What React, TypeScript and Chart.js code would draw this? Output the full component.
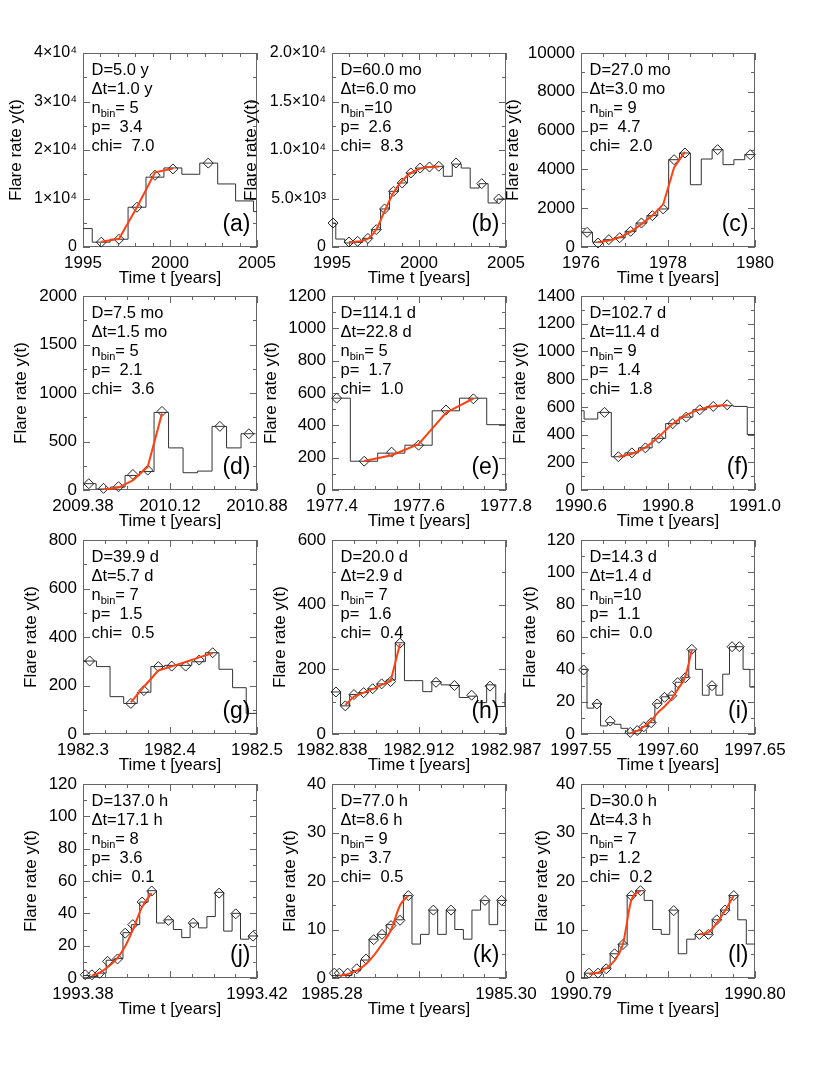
import React, { useEffect, useRef } from 'react';
import { Chart, registerables } from 'chart.js';

Chart.register(...registerables);

const FONT = '"Liberation Sans", Arial, Helvetica, sans-serif';
const FIT_COLOR = '#ff4010';
const HIST_COLOR = '#333333';
const FRAME_COLOR = '#666666';
const DIAMOND_COLOR = '#222222';

// ---------- text of each panel ----------
const panelLetters = ['(a)', '(b)', '(c)', '(d)', '(e)', '(f)', '(g)', '(h)', '(i)', '(j)', '(k)', '(l)'];
const durationLabels = ['D=5.0 y', 'D=60.0 mo', 'D=27.0 mo', 'D=7.5 mo', 'D=114.1 d', 'D=102.7 d', 'D=39.9 d', 'D=20.0 d', 'D=14.3 d', 'D=137.0 h', 'D=77.0 h', 'D=30.0 h'];
const stepLabels = ['Δt=1.0 y', 'Δt=6.0 mo', 'Δt=3.0 mo', 'Δt=1.5 mo', 'Δt=22.8 d', 'Δt=11.4 d', 'Δt=5.7 d', 'Δt=2.9 d', 'Δt=1.4 d', 'Δt=17.1 h', 'Δt=8.6 h', 'Δt=4.3 h'];
const nbinLabels = ['= 5', '=10', '= 9', '= 5', '= 5', '= 9', '= 7', '= 7', '=10', '= 8', '= 9', '= 7'];
const pLabels = ['p=  3.4', 'p=  2.6', 'p=  4.7', 'p=  2.1', 'p=  1.7', 'p=  1.4', 'p=  1.5', 'p=  1.6', 'p=  1.1', 'p=  3.6', 'p=  3.7', 'p=  1.2'];
const chiLabels = ['chi=  7.0', 'chi=  8.3', 'chi=  2.0', 'chi=  3.6', 'chi=  1.0', 'chi=  1.8', 'chi=  0.5', 'chi=  0.4', 'chi=  0.0', 'chi=  0.1', 'chi=  0.5', 'chi=  0.2'];

// ---------- axes ----------
const xRanges = [
  [1995, 2005], [1995, 2005], [1976, 1980],
  [2009.38, 2010.88], [1977.4, 1977.8], [1990.6, 1991.0],
  [1982.3, 1982.5], [1982.838, 1982.987], [1997.55, 1997.65],
  [1993.38, 1993.42], [1985.28, 1985.30], [1990.79, 1990.80],
];
const xTickLabels = [
  ['1995', '2000', '2005'], ['1995', '2000', '2005'], ['1976', '1978', '1980'],
  ['2009.38', '2010.12', '2010.88'], ['1977.4', '1977.6', '1977.8'], ['1990.6', '1990.8', '1991.0'],
  ['1982.3', '1982.4', '1982.5'], ['1982.838', '1982.912', '1982.987'], ['1997.55', '1997.60', '1997.65'],
  ['1993.38', '', '1993.42'], ['1985.28', '', '1985.30'], ['1990.79', '', '1990.80'],
];
const xMinorCounts = [10, 10, 8, 8, 8, 8, 8, 8, 8, 8, 8, 8];
const yMaxima = [40000, 20000, 10000, 2000, 1200, 1400, 800, 600, 120, 120, 40, 40];
const ySteps = [10000, 5000, 2000, 500, 200, 200, 200, 200, 20, 20, 10, 10];
const yLabelsA = ['0', '1×10⁴', '2×10⁴', '3×10⁴', '4×10⁴'];
const yLabelsB = ['0', '5.0×10³', '1.0×10⁴', '1.5×10⁴', '2.0×10⁴'];

// ---------- panel (a) ----------
const aBinStart = 1994.5, aBinWidth = 1.03;
const aValues = [3800, 1000, 1600, 8200, 14400, 16300, 15000, 17300, 13000, 9500, 7300];
const aDiamondX = [1996.05, 1997.07, 1998.1, 1999.14, 2000.17, 2002.2];
const aDiamondY = [1000, 1600, 8200, 14800, 16100, 17300];
const aFitX = [1996.05, 1997.07, 1998.1, 1999.14, 2000.17];
const aFitY = [1100, 1700, 8200, 15400, 16200];

// ---------- panel (b) ----------
const bBinStart = 1994.7025, bBinWidth = 0.515;
const bValues = [2470, 820, 420, 480, 890, 1790, 3920, 5740, 6600, 7630, 8140, 8250, 8320, 7290, 8550, 8140, 6080, 6530, 4540, 4950];
const bDiamondX = [1995.06, 1995.975, 1996.472, 1997.065, 1997.543, 1998.021, 1998.537, 1999.034, 1999.532, 2000.067, 2000.602, 2001.138, 2002.132, 2003.604, 2004.579];
const bDiamondY = [2470, 515, 585, 890, 1790, 3920, 5740, 6600, 7630, 8140, 8250, 8320, 8660, 6530, 4950];
const bFitX = [1995.975, 1996.472, 1997.065, 1997.543, 1998.021, 1998.537, 1999.034, 1999.532, 2000.067, 2000.602, 2001.138];
const bFitY = [520, 560, 850, 1800, 3700, 5600, 6850, 7620, 8080, 8260, 8280];

// ---------- panel (c) ----------
const cBinStart = 1976.015, cBinWidth = 0.25;
const cValues = [756, 250, 378, 480, 808, 1237, 1615, 1960, 4500, 4845, 3210, 4535, 5017, 4244, 4500, 4760];
const cDiamondX = [1976.14, 1976.39, 1976.64, 1976.89, 1977.14, 1977.39, 1977.64, 1977.89, 1978.14, 1978.39, 1979.14, 1979.89];
const cDiamondY = [756, 206, 378, 480, 808, 1237, 1615, 1960, 4500, 4845, 5017, 4760];
const cFitX = [1976.39, 1976.64, 1976.89, 1977.14, 1977.39, 1977.64, 1977.89, 1978.14, 1978.39];
const cFitY = [250, 340, 500, 780, 1180, 1620, 2200, 4100, 4900];

// ---------- panel (d) ----------
const dBinStart = 2009.3675, dBinWidth = 0.125;
const dValues = [65, 10, 30, 150, 190, 800, 434, 178, 195, 656, 434, 580];
const dDiamondX = [2009.43, 2009.557, 2009.686, 2009.81, 2009.938, 2010.061, 2010.56, 2010.81];
const dDiamondY = [65, 17, 34, 160, 205, 810, 656, 580];
const dFitX = [2009.557, 2009.686, 2009.81, 2009.938, 2010.061];
const dFitY = [5, 25, 100, 240, 790];

// ---------- panel (e) ----------
const eBinStart = 1977.3795, eBinWidth = 0.0627;
const eValues = [568, 178, 228, 277, 490, 568, 404];
const eDiamondX = [1977.4107, 1977.474, 1977.537, 1977.599, 1977.662, 1977.725];
const eDiamondY = [568, 178, 234, 277, 495, 564];
const eFitX = [1977.474, 1977.537, 1977.599, 1977.662, 1977.725];
const eFitY = [180, 215, 283, 478, 566];

// ---------- panel (f) ----------
const fBinStart = 1990.5759, fBinWidth = 0.03125;
const fValues = [572, 512, 560, 240, 268, 304, 373, 479, 526, 579, 603, 608, 603, 400];
const fDiamondX = [1990.654, 1990.686, 1990.717, 1990.748, 1990.779, 1990.811, 1990.842, 1990.873, 1990.904, 1990.936];
const fDiamondY = [560, 240, 268, 304, 373, 479, 526, 579, 603, 615];
const fFitX = [1990.686, 1990.717, 1990.748, 1990.779, 1990.811, 1990.842, 1990.873, 1990.904, 1990.936];
const fFitY = [240, 262, 308, 385, 478, 540, 582, 605, 614];

// ---------- panel (g) ----------
const gBinStart = 1982.2998, gBinWidth = 0.01565;
const gValues = [301, 278, 154, 126, 172, 278, 283, 283, 298, 335, 267, 191, 85];
const gDiamondX = [1982.3076, 1982.355, 1982.370, 1982.3866, 1982.402, 1982.418, 1982.4336, 1982.449];
const gDiamondY = [301, 126, 179, 278, 280, 280, 305, 335];
const gFitX = [1982.355, 1982.370, 1982.3866, 1982.402, 1982.418, 1982.4336, 1982.449];
const gFitY = [130, 195, 262, 279, 297, 316, 334];

// ---------- panel (h) ----------
const hBinStart = 1982.8375, hBinWidth = 0.00782;
const hValues = [130, 87, 122, 128, 140, 155, 167, 282, 165, 165, 131, 162, 152, 150, 113, 117, 97, 152, 85, 126];
const hDiamondX = [1982.8414, 1982.8494, 1982.8568, 1982.8651, 1982.8728, 1982.8805, 1982.8882, 1982.8962, 1982.9271, 1982.9428, 1982.9576, 1982.9733];
const hDiamondY = [130, 87, 122, 128, 140, 155, 162, 281, 160, 150, 120, 148];
const hFitX = [1982.8494, 1982.8568, 1982.8651, 1982.8728, 1982.8805, 1982.8882, 1982.8962];
const hFitY = [90, 116, 128, 139, 152, 163, 278];

// ---------- panel (i) ----------
const iBinStart = 1997.54955, iBinWidth = 0.0039;
const iValues = [40, 16, 19, 5, 7, 6, 3.5, 0.5, 2, 4.5, 7, 19, 23, 24, 32, 35, 52, 40, 24, 30, 24, 37, 54, 54, 40, 29];
const iDiamondX = [1997.5515, 1997.5592, 1997.5668, 1997.5783, 1997.5823, 1997.5861, 1997.5903, 1997.5938, 1997.598, 1997.6022, 1997.6056, 1997.6099, 1997.6137, 1997.6253, 1997.6368, 1997.641];
const iDiamondY = [39.6, 18.6, 8, 1, 2.1, 4.5, 7, 18.6, 22.7, 23.7, 31.8, 34.8, 52.4, 29.9, 54, 54];
const iFitX = [1997.5783, 1997.5823, 1997.5861, 1997.5903, 1997.5938, 1997.598, 1997.6022, 1997.6056, 1997.6099, 1997.6137];
const iFitY = [0.4, 1.9, 4.5, 8.2, 12.8, 17, 22, 27.6, 35.5, 52];

// ---------- panel (j) ----------
const jBinStart = 1993.379535, jBinWidth = 0.00193;
const jValues = [1.5, 1, 3, 11, 12, 28, 33, 47, 54, 34, 36, 30, 25, 34, 31, 38, 53, 29, 40, 24, 26];
const jDiamondX = [1993.38053, 1993.38206, 1993.38382, 1993.38565, 1993.38794, 1993.3897, 1993.39145, 1993.39359, 1993.3958, 1993.39962, 1993.40534, 1993.4113, 1993.41511, 1993.41908];
const jDiamondY = [2, 2, 2.9, 10.3, 11.8, 27.7, 33, 47, 53.8, 35.6, 34, 52.5, 39.7, 25.9];
const jFitX = [1993.38206, 1993.38382, 1993.38565, 1993.38794, 1993.3897, 1993.39145, 1993.39359, 1993.3958];
const jFitY = [1.5, 3.3, 6.6, 12.5, 19.6, 29.8, 44, 52.5];

// ---------- panel (k) ----------
const kBinStart = 1985.279341, kBinWidth = 0.000985;
const kValues = [0.5, 0.5, 0.5, 1.5, 3.7, 8, 9, 11, 12, 17, 7, 9, 14, 9, 14, 10, 8, 14, 16, 11, 16];
const kDiamondX = [1985.28027, 1985.28084, 1985.2818, 1985.28284, 1985.28391, 1985.28479, 1985.28575, 1985.28678, 1985.28782, 1985.28877, 1985.29165, 1985.29368, 1985.29759, 1985.2995];
const kDiamondY = [1, 1, 1, 1.9, 3.9, 7.9, 9, 10.8, 11.9, 17, 14, 14, 16, 16];
const kFitX = [1985.28084, 1985.2818, 1985.28284, 1985.28391, 1985.28479, 1985.28575, 1985.28678, 1985.28782, 1985.28877];
const kFitY = [0.5, 0.8, 1.5, 2.9, 4.6, 7.0, 9.9, 15.0, 17];

// ---------- panel (l) ----------
const lBinStart = 1990.78972, lBinWidth = 0.000489;
const lValues = [0, 1, 1, 2, 5, 7, 17, 18, 16, 10, 9, 14, 5, 8, 9, 9, 12, 14, 17, 12, 7];
const lDiamondX = [1990.79046, 1990.79098, 1990.79145, 1990.79193, 1990.79241, 1990.79289, 1990.79342, 1990.79533, 1990.79681, 1990.79732, 1990.7978, 1990.79828, 1990.79878];
const lDiamondY = [1, 1, 1.9, 5, 6.9, 17, 18, 13.9, 9, 9, 12, 14, 17];
const lFitX = [1990.79046, 1990.79098, 1990.79145, 1990.79193, 1990.79241, 1990.79289, 1990.79342];
const lFitY = [0.8, 1.1, 2, 3.6, 7, 16, 18];
const lFit2X = [1990.79681, 1990.79732, 1990.7978, 1990.79828, 1990.79878];
const lFit2Y = [9, 9.4, 11.3, 13.9, 17];

type PanelSpec = {
  binStart: number;
  binWidth: number;
  values: number[];
  diaX: number[];
  diaY: number[];
  fits: [number[], number[]][];
  smooth: boolean;
};

const panels: PanelSpec[] = [
  { binStart: aBinStart, binWidth: aBinWidth, values: aValues, diaX: aDiamondX, diaY: aDiamondY, fits: [[aFitX, aFitY]], smooth: false },
  { binStart: bBinStart, binWidth: bBinWidth, values: bValues, diaX: bDiamondX, diaY: bDiamondY, fits: [[bFitX, bFitY]], smooth: true },
  { binStart: cBinStart, binWidth: cBinWidth, values: cValues, diaX: cDiamondX, diaY: cDiamondY, fits: [[cFitX, cFitY]], smooth: false },
  { binStart: dBinStart, binWidth: dBinWidth, values: dValues, diaX: dDiamondX, diaY: dDiamondY, fits: [[dFitX, dFitY]], smooth: false },
  { binStart: eBinStart, binWidth: eBinWidth, values: eValues, diaX: eDiamondX, diaY: eDiamondY, fits: [[eFitX, eFitY]], smooth: false },
  { binStart: fBinStart, binWidth: fBinWidth, values: fValues, diaX: fDiamondX, diaY: fDiamondY, fits: [[fFitX, fFitY]], smooth: true },
  { binStart: gBinStart, binWidth: gBinWidth, values: gValues, diaX: gDiamondX, diaY: gDiamondY, fits: [[gFitX, gFitY]], smooth: false },
  { binStart: hBinStart, binWidth: hBinWidth, values: hValues, diaX: hDiamondX, diaY: hDiamondY, fits: [[hFitX, hFitY]], smooth: false },
  { binStart: iBinStart, binWidth: iBinWidth, values: iValues, diaX: iDiamondX, diaY: iDiamondY, fits: [[iFitX, iFitY]], smooth: true },
  { binStart: jBinStart, binWidth: jBinWidth, values: jValues, diaX: jDiamondX, diaY: jDiamondY, fits: [[jFitX, jFitY]], smooth: true },
  { binStart: kBinStart, binWidth: kBinWidth, values: kValues, diaX: kDiamondX, diaY: kDiamondY, fits: [[kFitX, kFitY]], smooth: true },
  { binStart: lBinStart, binWidth: lBinWidth, values: lValues, diaX: lDiamondX, diaY: lDiamondY, fits: [[lFitX, lFitY], [lFit2X, lFit2Y]], smooth: true },
];

// ---------- layout ----------
const COL_LEFT = [83, 332, 581];
const ROW_TOP = [53, 296, 540, 784];
const PLOT_W = 174;
const PLOT_H = 194;
const PAD_L = 92;
const PAD_T = 15;
const PAD_R = 35;
const PAD_B = 42;
const CW = PAD_L + PLOT_W + PAD_R;
const CH = PAD_T + PLOT_H + PAD_B;
const Y_TITLE_OFFSET = [67, 81, 68, 62, 61, 61, 52, 52, 51, 52, 42, 39];

function decorPlugin(idx: number) {
  return {
    id: 'decor' + idx,
    beforeDatasetsDraw(chart: any) {
      const { ctx, chartArea: ca } = chart;
      const xs = chart.scales.x;
      const ys = chart.scales.y;
      ctx.save();
      ctx.strokeStyle = FRAME_COLOR;
      ctx.lineWidth = 1;
      ctx.strokeRect(ca.left + 0.5, ca.top + 0.5, ca.right - ca.left - 1, ca.bottom - ca.top - 1);
      const line = (x1: number, y1: number, x2: number, y2: number) => {
        ctx.beginPath();
        ctx.moveTo(x1, y1);
        ctx.lineTo(x2, y2);
        ctx.stroke();
      };
      const [x0, x1] = xRanges[idx];
      const nx = xMinorCounts[idx];
      for (let k = 0; k <= nx; k++) {
        const v = x0 + ((x1 - x0) * k) / nx;
        const major = (k * 2) % nx === 0;
        const len = major ? 7 : 4;
        const px = Math.round(xs.getPixelForValue(v)) + 0.5;
        line(px, ca.bottom, px, ca.bottom - len);
        line(px, ca.top, px, ca.top + len);
      }
      const yMax = yMaxima[idx];
      const ny = Math.round((yMax / ySteps[idx]) * 2);
      for (let k = 0; k <= ny; k++) {
        const v = (yMax * k) / ny;
        const major = k % 2 === 0;
        const len = major ? 7 : 4;
        const py = Math.round(ys.getPixelForValue(v)) + 0.5;
        line(ca.left, py, ca.left + len, py);
        line(ca.right, py, ca.right - len, py);
      }
      ctx.restore();
    },
    afterDatasetsDraw(chart: any) {
      const { ctx, chartArea: ca } = chart;
      ctx.save();
      ctx.fillStyle = '#000';
      ctx.textAlign = 'left';
      ctx.textBaseline = 'alphabetic';
      const big = '16.5px ' + FONT;
      const small = '11px ' + FONT;
      const x0 = ca.left + 8.5;
      const base = ca.top + 21.5;
      const dy = 19;
      ctx.font = big;
      ctx.fillText(durationLabels[idx], x0, base);
      ctx.fillText(stepLabels[idx], x0, base + dy);
      ctx.fillText('n', x0, base + 2 * dy);
      const wn = ctx.measureText('n').width;
      ctx.font = small;
      ctx.fillText('bin', x0 + wn, base + 2 * dy + 4.5);
      const wb = ctx.measureText('bin').width;
      ctx.font = big;
      ctx.fillText(nbinLabels[idx], x0 + wn + wb, base + 2 * dy);
      ctx.fillText(pLabels[idx], x0, base + 3 * dy);
      ctx.fillText(chiLabels[idx], x0, base + 4 * dy);
      ctx.font = '23px ' + FONT;
      ctx.textAlign = 'right';
      ctx.fillText(panelLetters[idx], ca.right - 6.5, ca.bottom - 16.5);
      ctx.restore();
    },
  };
}

function makeChart(canvas: HTMLCanvasElement, idx: number) {
  const p = panels[idx];
  const hist = p.values.map((v, i) => ({ x: p.binStart + i * p.binWidth, y: v }));
  hist.push({ x: p.binStart + p.values.length * p.binWidth, y: p.values[p.values.length - 1] });
  const diamonds = p.diaX.map((x, i) => ({ x, y: p.diaY[i] }));
  const [x0, x1] = xRanges[idx];
  const xTickVals = [x0, (x0 + x1) / 2, x1];
  const yMax = yMaxima[idx];
  const yTickVals: number[] = [];
  for (let k = 0; k <= Math.round(yMax / ySteps[idx]); k++) yTickVals.push(k * ySteps[idx]);
  const customY = idx === 0 ? yLabelsA : idx === 1 ? yLabelsB : null;
  const tickFont = { family: FONT, size: 17 };
  const yTickFont = customY ? { family: FONT, size: 16 } : tickFont;

  const fitSets = p.fits.map(([fx, fy]) => ({
    data: fx.map((x, i) => ({ x, y: fy[i] })),
    borderColor: FIT_COLOR,
    borderWidth: 2,
    pointRadius: 0,
    fill: false,
    tension: 0,
    cubicInterpolationMode: p.smooth ? 'monotone' : 'default',
    order: 0,
  }));

  return new Chart(canvas, {
    type: 'line',
    data: {
      datasets: [
        ...fitSets,
        {
          data: diamonds,
          showLine: false,
          pointStyle: 'rectRot',
          pointRadius: 5,
          pointBorderWidth: 1,
          borderColor: DIAMOND_COLOR,
          pointBorderColor: DIAMOND_COLOR,
          backgroundColor: 'rgba(255,255,255,0)',
          pointBackgroundColor: 'rgba(255,255,255,0)',
          clip: false,
          order: 1,
        },
        {
          data: hist,
          stepped: 'before',
          borderColor: HIST_COLOR,
          borderWidth: 1,
          pointRadius: 0,
          fill: false,
          order: 2,
        },
      ] as any,
    },
    options: {
      animation: false,
      responsive: false,
      events: [],
      layout: { padding: { left: 0, top: PAD_T, right: PAD_R, bottom: 0 } },
      plugins: { legend: { display: false }, tooltip: { enabled: false } },
      scales: {
        x: {
          type: 'linear',
          min: x0,
          max: x1,
          afterBuildTicks: (s: any) => {
            s.ticks = xTickVals.map((v) => ({ value: v }));
          },
          afterFit: (s: any) => {
            s.height = PAD_B;
            s.paddingLeft = 0;
            s.paddingRight = 0;
          },
          grid: { display: false, drawTicks: false },
          border: { display: false },
          ticks: {
            autoSkip: false,
            maxRotation: 0,
            minRotation: 0,
            padding: 6,
            color: '#000',
            font: tickFont,
            callback: (_v: any, i: number) => xTickLabels[idx][i],
          },
          title: { display: true, text: 'Time t [years]', color: '#000', font: tickFont, padding: { top: 0, bottom: 0 } },
        },
        y: {
          type: 'linear',
          min: 0,
          max: yMax,
          afterBuildTicks: (s: any) => {
            s.ticks = yTickVals.map((v) => ({ value: v }));
          },
          afterFit: (s: any) => {
            s.width = PAD_L;
            s.paddingTop = 0;
            s.paddingBottom = 0;
          },
          grid: { display: false, drawTicks: false },
          border: { display: false },
          ticks: {
            autoSkip: false,
            padding: 6,
            color: '#000',
            font: yTickFont,
            callback: (v: any, i: number) => (customY ? customY[i] : String(v)),
          },
          title: {
            display: true,
            text: 'Flare rate y(t)',
            color: '#000',
            font: tickFont,
            padding: { top: PAD_L - 10.2 - Y_TITLE_OFFSET[idx], bottom: 0 },
          },
        },
      },
    } as any,
    plugins: [decorPlugin(idx)],
  });
}

export default function App() {
  const refs = useRef<(HTMLCanvasElement | null)[]>([]);
  useEffect(() => {
    const charts = panels.map((_, i) => makeChart(refs.current[i] as HTMLCanvasElement, i));
    return () => {
      charts.forEach((c) => c.destroy());
    };
  }, []);
  return (
    <div style={{ position: 'absolute', left: 0, top: 0, width: 830, height: 1081, background: '#fff' }}>
      {panels.map((_, i) => {
        const r = Math.floor(i / 3);
        const c = i % 3;
        return (
          <canvas
            key={i}
            ref={(el) => {
              refs.current[i] = el;
            }}
            width={CW}
            height={CH}
            style={{ position: 'absolute', left: COL_LEFT[c] - PAD_L, top: ROW_TOP[r] - PAD_T, width: CW, height: CH }}
          />
        );
      })}
    </div>
  );
}
